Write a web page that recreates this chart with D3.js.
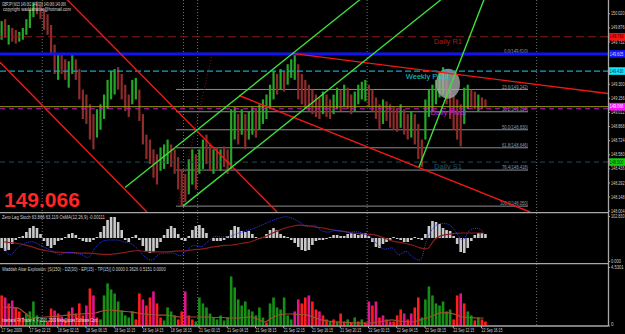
<!DOCTYPE html>
<html>
<head>
<meta charset="utf-8">
<script src="https://cdn.jsdelivr.net/npm/d3@7"></script>
<style>
  body { margin: 0; background: #000; overflow: hidden; }
  svg { display: block; }
  text { font-family: "Liberation Sans", Arial, sans-serif; }
</style>
</head>
<body>
<div id="canvas"></div>
<script>
// ---- data (GBPJPY M15, bars grouped by 30 min) ----
let timeLabels = ["17 Sep 2009", "17 Sep 22:15", "18 Sep 02:15", "18 Sep 06:15", "18 Sep 10:15", "18 Sep 14:15",
    "18 Sep 18:15", "21 Sep 00:15", "21 Sep 04:15", "21 Sep 08:15", "21 Sep 12:15", "21 Sep 16:15",
    "21 Sep 20:15", "22 Sep 00:15", "22 Sep 04:15", "22 Sep 08:15", "22 Sep 12:15", "22 Sep 16:15"];

let priceTicks = [150.020, 149.876, 149.732, 149.588, 149.444, 149.300, 149.156, 149.012,
    148.868, 148.724, 148.580, 148.436, 148.292, 148.148, 148.004];

let barHigh = [149.94, 149.96, 149.90, 149.87, 149.85, 149.83, 149.87, 149.96, 150.06, 150.13,
    150.14, 150.11, 150.06, 150.01, 149.90, 149.70, 149.60, 149.60, 149.55, 149.53,
    149.60, 149.55, 149.45, 149.24, 149.19, 149.09, 148.99, 149.04, 149.09, 149.19,
    149.34, 149.43, 149.45, 149.47, 149.40, 149.29, 149.19, 149.34, 149.36, 149.24,
    148.99, 148.78, 148.73, 148.63, 148.58, 148.65, 148.68, 148.73, 148.68, 148.63,
    148.55, 148.43, 148.38, 148.53, 148.63, 148.58, 148.63, 148.73, 148.78, 148.68,
    148.63, 148.65, 148.63, 148.66, 148.63, 149.04, 149.06, 148.99, 149.04, 148.99,
    149.02, 149.06, 149.04, 149.09, 149.14, 149.19, 149.29, 149.43, 149.40, 149.45,
    149.43, 149.50, 149.55, 149.61, 149.50, 149.40, 149.34, 149.29, 149.24, 149.19,
    149.16, 149.22, 149.19, 149.14, 149.19, 149.26, 149.24, 149.29, 149.26, 149.19,
    149.22, 149.29, 149.32, 149.34, 149.29, 149.24, 149.16, 149.09, 149.14, 149.12,
    149.09, 149.06, 149.04, 149.09, 149.04, 148.99, 149.02, 148.99, 148.89, 148.73,
    149.14, 149.24, 149.29, 149.34, 149.43, 149.47, 149.40, 149.29, 149.19, 149.14,
    149.09, 149.26, 149.29, 149.24, 149.22, 149.19, 149.16, 149.14];

let barLow = [149.75, 149.77, 149.70, 149.73, 149.71, 149.73, 149.75, 149.80, 149.87, 149.98,
    150.01, 149.96, 149.85, 149.80, 149.60, 149.40, 149.34, 149.40, 149.34, 149.26,
    149.40, 149.34, 149.14, 148.94, 148.89, 148.73, 148.63, 148.75, 148.83, 148.94,
    149.04, 149.14, 149.19, 149.24, 149.14, 149.02, 148.96, 149.09, 149.14, 148.92,
    148.68, 148.53, 148.48, 148.34, 148.27, 148.41, 148.43, 148.48, 148.45, 148.38,
    148.22, 148.05, 148.09, 148.17, 148.27, 148.22, 148.38, 148.43, 148.48, 148.41,
    148.38, 148.43, 148.41, 148.45, 148.38, 148.43, 148.73, 148.68, 148.78, 148.63,
    148.73, 148.78, 148.75, 148.83, 148.89, 148.94, 149.04, 149.14, 149.19, 149.24,
    149.22, 149.29, 149.36, 149.34, 149.14, 149.09, 149.04, 149.02, 148.99, 148.96,
    148.94, 148.99, 148.96, 148.94, 148.99, 149.04, 149.02, 149.06, 149.04, 148.99,
    149.02, 149.09, 149.14, 149.12, 149.06, 149.02, 148.94, 148.83, 148.89, 148.92,
    148.85, 148.83, 148.81, 148.85, 148.78, 148.73, 148.75, 148.68, 148.53, 148.45,
    148.73, 148.96, 149.02, 149.09, 149.16, 149.19, 149.09, 148.94, 148.83, 148.73,
    148.66, 148.89, 149.04, 149.06, 149.04, 149.02, 149.04, 149.06];

// g = up bar, r = down bar
let barDir = "grgrrgggggrrrrrrgrrggrrrrrrggggggrrrrggrrrrrrgggrrrrrggrggrrgrgrrggrgrggrgggggrgrgggrrrrrrrgrrggrgrrggggrrrrgrrrrgrrgrrrggggggrrrrrggrrgrr";

let levelNames = ["Daily R1", "", "Weekly Pivot", "Daily Pivot", "Daily S1"];
let levelPrices = [149.780, 149.605, 149.430, 149.045, 148.500];
let bidPrice = 149.066;

let fibPct = [0, 23.6, 38.2, 50, 61.8, 76.4, 100];
let fibHighLow = [149.61, 148.05];
let fibBars = [99.3, 298.6];

// trend lines: [bar index, price] pairs
let redLines = [
    [[37.5, 150.16], [156.5, 147.99]],
    [[-0.4, 149.52], [82.8, 147.99]],
    [[165.0, 149.61], [343.9, 149.20]],
    [[135.0, 149.18], [299.8, 147.99]]
];
let greenLines = [
    [[70.4, 148.24], [203.5, 150.16]],
    [[103.2, 148.05], [249.4, 150.16]],
    [[236.9, 148.45], [273.7, 150.16]]
];
let dottedLine = [[100.4, 148.07], [119.7, 149.60]];
let markerPoint = [253.3, 149.30];

let daySeparators = [23.5, 103.5, 111.5, 207.5, 303.5];

// OsMA histogram (30 min)
let osma = [-0.010, -0.013, -0.012, -0.006, -0.002, 0.001, 0.002, 0.006, 0.010, 0.012,
    0.010, 0.004, -0.003, -0.008, -0.010, -0.007, -0.003, -0.002, 0.001, 0.004,
    0.005, 0.003, -0.001, -0.003, -0.004, -0.004, -0.002, 0.001, 0.006, 0.012,
    0.018, 0.021, 0.021, 0.016, 0.008, -0.002, -0.004, 0.001, 0.003, -0.002,
    -0.008, -0.013, -0.015, -0.014, -0.010, -0.004, 0.003, 0.009, 0.012, 0.010,
    0.004, -0.002, -0.003, 0.002, 0.008, 0.012, 0.013, 0.010, 0.005, 0.000,
    -0.003, -0.003, -0.003, -0.002, 0.002, 0.008, 0.012, 0.011, 0.007, 0.006,
    0.007, 0.004, 0.001, -0.001, 0.001, 0.004, 0.008, 0.010, 0.008, 0.004,
    0.002, 0.001, -0.002, -0.005, -0.009, -0.012, -0.013, -0.012, -0.007, -0.003,
    -0.002, -0.002, -0.001, 0.001, 0.003, 0.003, 0.002, 0.002, 0.004, 0.005,
    0.004, 0.003, 0.004, 0.005, 0.002, -0.004, -0.009, -0.010, -0.006, -0.004,
    -0.002, 0.001, -0.001, -0.002, -0.004, -0.004, -0.002, 0.001, -0.001, -0.002,
    0.004, 0.012, 0.017, 0.016, 0.014, 0.010, 0.008, 0.007, 0.002, -0.006,
    -0.014, -0.015, -0.010, -0.003, 0.003, 0.005, 0.005, 0.004];

// Zero Lag Stoch main and signal (hourly)
let stochMain = [30, 14, 30, 40, 44, 38, 30, 22, 14, 20, 18, 15, 8, 30, 45, 48, 48, 44, 40, 28,
    10, 2, 15, 18, 18, 12, 25, 36, 33, 45, 56, 55, 56, 62, 67, 72, 78, 85, 92, 98,
    101, 97, 88, 78, 82, 70, 66, 70, 68, 66, 67, 62, 55, 37, 27, 30, 14, 22, 8, 2,
    50, 78, 86, 84, 68, 48, 70, 75, 66];
let stochSignal = [44, 42, 40, 37, 33, 27, 24, 21, 20, 19, 19, 18, 18, 17, 15, 15, 17, 19, 22, 24,
    22, 21, 21, 21, 22, 23, 24, 26, 27, 30, 33, 35, 36, 38, 41, 44, 50, 55, 63, 70,
    76, 80, 82, 81, 78, 76, 73, 70, 68, 65, 63, 62, 61, 58, 52, 46, 43, 40, 36, 30,
    28, 48, 58, 61, 63, 64, 64, 64, 64];

// Waddah Attar Explosion (30 min bars, hourly dead zone)
let waeBars = [2.33, 2.17, 1.71, 1.94, 1.40, 1.09, 0.62, 0.93, 1.09, 1.86,
    0.78, 0.47, 0.39, 0.31, 1.32, 1.16, 0.93, 0.70, 0.47, 1.09,
    1.40, 0.93, 1.71, 0.78, 1.55, 2.87, 2.33, 0.62, 0.47, 2.33,
    3.26, 2.79, 2.48, 1.86, 1.16, 0.78, 0.62, 1.09, 0.47, 2.48,
    2.02, 1.55, 2.17, 2.64, 1.71, 0.62, 0.39, 1.40, 1.09, 0.78,
    0.47, 1.09, 2.64, 0.78, 0.47, 0.31, 2.17, 1.71, 1.40, 0.93,
    0.62, 0.47, 0.78, 0.39, 0.62, 3.80, 2.95, 2.02, 1.55, 1.86,
    1.24, 1.09, 0.78, 1.40, 0.62, 0.23, 1.71, 2.17, 1.40, 1.24,
    2.17, 0.78, 0.47, 1.09, 2.02, 1.71, 2.17, 2.33, 1.86, 1.24,
    1.09, 0.78, 0.47, 0.31, 0.47, 0.31, 0.93, 0.31, 0.47, 0.23,
    0.62, 0.31, 0.47, 0.23, 1.86, 1.55, 1.86, 0.62, 0.78, 0.47,
    0.31, 0.31, 0.78, 1.24, 0.93, 0.47, 0.93, 1.40, 2.17, 0.62,
    2.02, 3.02, 2.33, 1.71, 1.55, 1.86, 1.09, 1.24, 0.47, 2.33,
    2.48, 1.71, 1.09, 0.78, 0.39, 0.62, 0.47, 0.31];
// g = green, r = red, m = magenta
let waeColor = "rmrmrrrggggggrrmrmrrmrrrmrmrggggggggggrrmrrmrrggggrrmrrggggggggggggggggggggrgggggggmmrrmrrmrrgrgrrgrgrgrmrmrmrmrrrmrmrrgggggggggrrmrggrgrr";
let waeDeadZone = [1.43, 1.40, 1.36, 1.00, 0.58, 0.62, 0.66, 0.70, 0.74, 0.81, 0.85, 0.89, 0.93, 0.97, 1.12,
    1.20, 1.15, 1.10, 1.05, 0.97, 0.89, 0.85, 0.81, 0.81, 0.74, 0.66, 0.66, 0.66, 0.66, 0.66,
    0.62, 0.62, 0.58, 0.58, 0.62, 0.66, 0.50, 0.27, 0.58, 0.81, 0.89, 0.89, 0.85, 0.81, 0.62,
    0.43, 0.35, 0.27, 0.25, 0.23, 0.21, 0.19, 0.19, 0.27, 0.35, 0.43, 0.35, 0.30, 0.27, 0.43,
    0.58, 0.81, 0.97, 0.97, 0.85, 0.66, 0.62, 0.58, 0.58];

// ---- layout ----
const width = 625, height = 334;
const plotRight = 608;
const mainBottom = 212, p2Top = 213.5, p2Bottom = 263, p3Top = 264.5, p3Bottom = 326;

let svg = d3.select("#canvas")
    .append("svg")
    .attr("width", width)
    .attr("height", height);

svg.append("rect").attr("width", width).attr("height", height).attr("fill", "#000");

const x = d3.scaleLinear().domain([0, 272]).range([0.75, 481]);
const yMain = d3.scaleLinear().domain([147.99, 150.125]).range([212, 3]);
const yOsma = d3.scaleLinear().domain([-0.024, 0.024]).range([262, 214]);
const yStoch = d3.scaleLinear().domain([0, 102.83]).range([261, 216]);
const yWae = d3.scaleLinear().domain([0, 4.5301]).range([325.5, 267]);

let defs = svg.append("defs");
let addClip = (id, y0, y1) => {
    defs.append("clipPath").attr("id", id)
        .append("rect").attr("x", 0).attr("y", y0).attr("width", plotRight).attr("height", y1 - y0);
}
addClip("clipMain", 0, mainBottom);
addClip("clipP2", p2Top, p2Bottom);
addClip("clipP3", p3Top, p3Bottom);

// squeeze a text horizontally to a given width (the MT4 font is very narrow)
function squeeze(sel, len) {
    sel.each(function () {
        let t = d3.select(this);
        let w = this.getComputedTextLength();
        let x0 = +t.attr("x") || 0;
        let y0 = +t.attr("y") || 0;
        t.attr("x", 0).attr("y", 0)
            .attr("transform", `translate(${x0},${y0}) scale(${w ? len / w : 1},1)`);
    });
}

function tiny(g, str, px, py, len, color, anchor) {
    let t = g.append("text")
        .attr("x", px).attr("y", py)
        .attr("font-size", 4.6)
        .attr("fill", color || "#cfcfcf")
        .attr("text-anchor", anchor || "start")
        .text(str);
    squeeze(t, len);
    return t;
}

// day separators through all panels
svg.append("g").selectAll("line")
    .data(daySeparators)
    .join("line")
    .attr("x1", d => x(d)).attr("x2", d => x(d))
    .attr("y1", 0).attr("y2", p3Bottom)
    .attr("stroke", "#8a8a8a").attr("stroke-width", 0.8)
    .attr("stroke-dasharray", "1,2");

// ---- main panel ----
let main = svg.append("g").attr("clip-path", "url(#clipMain)");

// fibonacci levels
let fibHigh = fibHighLow[0], fibLow = fibHighLow[1];
let fibPrice = p => fibHigh - p / 100 * (fibHigh - fibLow);
main.append("g").selectAll("line")
    .data(fibPct)
    .join("line")
    .attr("x1", x(fibBars[0])).attr("x2", x(fibBars[1]))
    .attr("y1", d => yMain(fibPrice(d))).attr("y2", d => yMain(fibPrice(d)))
    .attr("stroke", "#8c8c8c").attr("stroke-width", 1);

let fibText = main.append("g");
fibPct.forEach(p => {
    let s = d3.format(".1f")(p) + "(" + d3.format(".3f")(fibPrice(p)) + ")";
    tiny(fibText, s, x(fibBars[1]), yMain(fibPrice(p)) - 0.8, s.length * 2.0, "#9a9a9a", "end");
});

// price bars
main.append("g").selectAll("line")
    .data(barHigh)
    .join("line")
    .attr("x1", (d, i) => x(2 * i + 0.5))
    .attr("x2", (d, i) => x(2 * i + 0.5))
    .attr("y1", d => yMain(d))
    .attr("y2", (d, i) => yMain(barLow[i]))
    .attr("stroke", (d, i) => barDir[i] === "g" ? "#26a626" : "#8e2c2c")
    .attr("stroke-width", 2.2);

// grey marker ellipse
main.append("ellipse")
    .attr("cx", x(markerPoint[0])).attr("cy", yMain(markerPoint[1]))
    .attr("rx", 12).attr("ry", 15)
    .attr("fill", "#a8a8a8").attr("opacity", 0.8);

// horizontal levels
const levelStyle = [
    { stroke: "#8b1a1a", dash: "8,4", w: 1, text: "#a81c1c", tx: 462, ty: 7, box: "#ff1010", boxText: "#300" },
    { stroke: "#1212f2", dash: null, w: 3, text: null, box: "#1414ff", boxText: "#dde" },
    { stroke: "#12a6c6", dash: "6,3", w: 1.2, text: "#1cc6d6", tx: 449, ty: 7.5, box: "#10e6ff", boxText: "#033" },
    { stroke: "#c414c4", dash: "5,4", w: 1, text: "#d020d0", tx: 466, ty: 6.5, box: null },
    { stroke: "#1f4c5c", dash: "5,4", w: 1, text: "#26506a", tx: 462, ty: 7, box: "#10d010", boxText: "#030" }
];
let lv = main.append("g");
levelPrices.forEach((p, i) => {
    let st = levelStyle[i];
    lv.append("line")
        .attr("x1", 0).attr("x2", plotRight)
        .attr("y1", yMain(p)).attr("y2", yMain(p))
        .attr("stroke", st.stroke).attr("stroke-width", st.w)
        .attr("stroke-dasharray", st.dash);
    if (levelNames[i]) {
        lv.append("text")
            .attr("x", st.tx).attr("y", yMain(p) + st.ty)
            .attr("text-anchor", "end")
            .attr("font-size", 7.5)
            .attr("fill", st.text)
            .text(levelNames[i]);
    }
});
// bid line
main.append("line")
    .attr("x1", 0).attr("x2", plotRight)
    .attr("y1", yMain(bidPrice)).attr("y2", yMain(bidPrice))
    .attr("stroke", "#9a9a10").attr("stroke-width", 1);

// trend lines
let seg = d3.line().x(d => x(d[0])).y(d => yMain(d[1]));
main.append("g").selectAll("path")
    .data(redLines)
    .join("path")
    .attr("d", seg)
    .attr("fill", "none").attr("stroke", "#f01818").attr("stroke-width", 1.4);
main.append("g").selectAll("path")
    .data(greenLines)
    .join("path")
    .attr("d", seg)
    .attr("fill", "none").attr("stroke", "#3ee03e").attr("stroke-width", 1.4);
main.append("path")
    .attr("d", seg(dottedLine))
    .attr("fill", "none").attr("stroke", "#7a1a1a").attr("stroke-width", 1)
    .attr("stroke-dasharray", "1,2");

// big price
svg.append("text")
    .attr("x", 4).attr("y", 207)
    .attr("font-size", 21).attr("font-weight", "bold")
    .attr("fill", "#ff2626")
    .text(d3.format(".3f")(bidPrice));

// header
tiny(svg, "GBPJPY,M15  149.062 149.079 149.066 149.066", 2, 5.6, 64, "#d8d8d8");
tiny(svg, "copyright waddahattar@hotmail.com", 3, 10.6, 68, "#d8d8d8");

// ---- panel 2: Zero Lag Stoch / OsMA ----
let p2 = svg.append("g").attr("clip-path", "url(#clipP2)");
p2.append("g").selectAll("rect")
    .data(osma)
    .join("rect")
    .attr("x", (d, i) => x(2 * i + 0.5) - 1.3)
    .attr("width", 2.6)
    .attr("y", d => Math.min(yOsma(d), yOsma(0)))
    .attr("height", d => Math.abs(yOsma(d) - yOsma(0)))
    .attr("fill", "#cacaca");
let hourLine = (ys) => d3.line().x((d, i) => x(4 * i + 1.5)).y(d => ys(d)).curve(d3.curveMonotoneX);
p2.append("path")
    .attr("d", hourLine(yStoch)(stochSignal))
    .attr("fill", "none").attr("stroke", "#8b1c1c").attr("stroke-width", 1.2);
p2.append("path")
    .attr("d", hourLine(yStoch)(stochMain))
    .attr("fill", "none").attr("stroke", "#2a3cff").attr("stroke-width", 1)
    .attr("stroke-dasharray", "1,1");
tiny(svg, "Zero Lag Stoch 63.866 63.119  OsMA(12,26,9) -0.00111", 2, 219, 103);

// ---- panel 3: Waddah Attar Explosion ----
let p3 = svg.append("g").attr("clip-path", "url(#clipP3)");
const waeFill = { g: "#178f17", r: "#ff1c1c", m: "#e0148c" };
p3.append("g").selectAll("rect")
    .data(waeBars)
    .join("rect")
    .attr("x", (d, i) => x(2 * i + 0.5) - 1.3)
    .attr("width", 2.6)
    .attr("y", d => yWae(d))
    .attr("height", d => yWae(0) - yWae(d))
    .attr("fill", (d, i) => waeFill[waeColor[i]]);
p3.append("path")
    .attr("d", hourLine(yWae)(waeDeadZone))
    .attr("fill", "none").attr("stroke", "#a0522d").attr("stroke-width", 1.2);
tiny(svg, "Waddah Attar Explosion: [S(150) - DZ(30) - EP(15) - TP(15)] 0.0000 0.3626 0.5151 0.0000", 2, 270.5, 164);
tiny(svg, "Interbank FX Trader 4, \u00a9 2001-2009 MetaQuotes Software Corp.", 2, 321.5, 97, "#e6e6e6");

// ---- frame ----
let frame = svg.append("g").attr("stroke", "#a8a8a8").attr("stroke-width", 1.3);
frame.append("line").attr("x1", 0).attr("x2", plotRight).attr("y1", 212.6).attr("y2", 212.6);
frame.append("line").attr("x1", 0).attr("x2", plotRight).attr("y1", 263.6).attr("y2", 263.6);
frame.append("line").attr("x1", 0).attr("x2", plotRight).attr("y1", 326).attr("y2", 326);
frame.append("line").attr("x1", plotRight + 0.5).attr("x2", plotRight + 0.5).attr("y1", 0).attr("y2", 326);

// ---- axes ----
let styleAxis = (g, lenFn) => {
    g.select(".domain").remove();
    g.selectAll("line").attr("stroke", "#a8a8a8");
    g.selectAll("text")
        .attr("font-size", 4.6)
        .attr("fill", "#cfcfcf")
        .attr("font-family", "Liberation Sans, Arial, sans-serif")
        .each(function (d) { squeeze(d3.select(this), lenFn(d)); });
}

// price labels that sit under a coloured level box are hidden by it
let boxPrices = levelPrices.filter((p, i) => levelStyle[i].box).concat([bidPrice]);
let underBox = t => boxPrices.some(b => Math.abs(yMain(b) - yMain(t)) < 4.5);

svg.append("g")
    .attr("transform", `translate(${plotRight},0)`)
    .call(d3.axisRight(yMain).tickValues(priceTicks.filter(t => !underBox(t)))
        .tickFormat(d3.format(".3f")).tickSize(2).tickPadding(1))
    .call(g => g.selectAll("text").attr("dy", null).attr("y", 1.6))
    .call(g => styleAxis(g, () => 13.5));

svg.append("g")
    .attr("transform", `translate(${plotRight},0)`)
    .call(d3.axisRight(yStoch).tickValues([102.83, 0]).tickFormat(d3.format(".3f")).tickSize(2).tickPadding(1))
    .call(g => g.selectAll("text").attr("dy", null).attr("y", 1.6))
    .call(g => styleAxis(g, d => d ? 13.5 : 10));

svg.append("g")
    .attr("transform", `translate(${plotRight},0)`)
    .call(d3.axisRight(yWae).tickValues([4.5301, 0]).tickFormat(d => d ? d3.format(".4f")(d) : "0").tickSize(2).tickPadding(1))
    .call(g => g.selectAll("text").attr("dy", null).attr("y", d => d ? 1.6 : -0.5))
    .call(g => styleAxis(g, d => d ? 12.5 : 2.5));

svg.append("g")
    .attr("transform", `translate(0,${p3Bottom})`)
    .call(d3.axisBottom(x).tickValues(timeLabels.map((d, i) => i * 16)).tickFormat((d, i) => timeLabels[i]).tickSize(2).tickPadding(1))
    .call(g => g.selectAll("text").attr("text-anchor", "start").attr("dy", null).attr("y", 6.4))
    .call(g => styleAxis(g, () => 21));

// price label boxes on the right axis
let boxes = svg.append("g");
let boxAt = (p, fill, txtColor) => {
    boxes.append("rect")
        .attr("x", plotRight + 1).attr("y", yMain(p) - 3.8)
        .attr("width", 16).attr("height", 7.6)
        .attr("fill", fill);
    tiny(boxes, d3.format(".3f")(p), plotRight + 1.8, yMain(p) + 1.7, 13.5, txtColor);
}
levelPrices.forEach((p, i) => {
    if (levelStyle[i].box) boxAt(p, levelStyle[i].box, levelStyle[i].boxText);
});
boxAt(bidPrice, "#ff10ff", "#fff");
</script>
</body>
</html>
